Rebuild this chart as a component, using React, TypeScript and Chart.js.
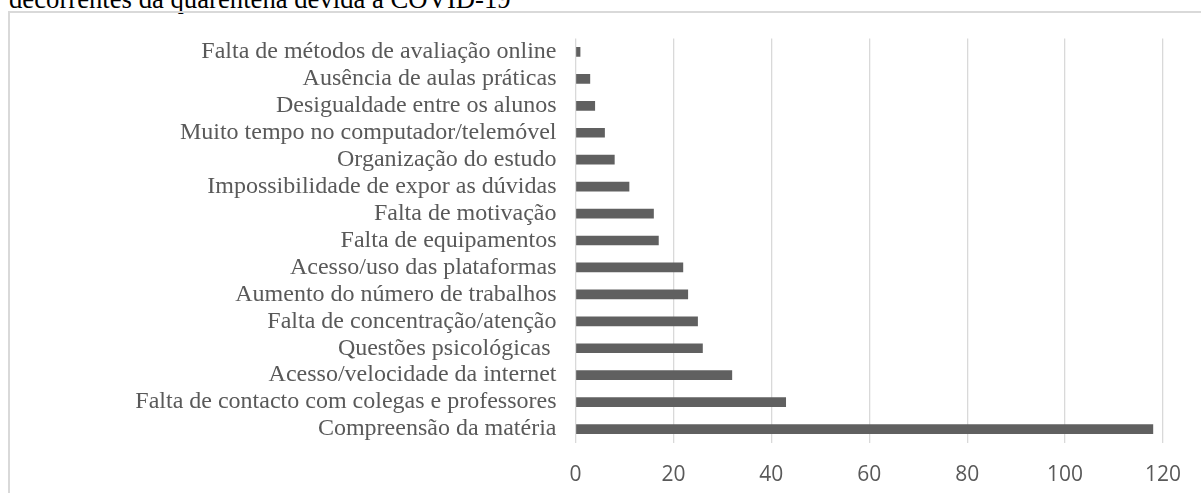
import React, { useEffect, useRef } from "react";
import { Chart, registerables } from "chart.js";

Chart.register(...registerables);

const categories: string[] = [
  "Falta de métodos de avaliação online",
  "Ausência de aulas práticas",
  "Desigualdade entre os alunos",
  "Muito tempo no computador/telemóvel",
  "Organização do estudo",
  "Impossibilidade de expor as dúvidas",
  "Falta de motivação",
  "Falta de equipamentos",
  "Acesso/uso das plataformas",
  "Aumento do número de trabalhos",
  "Falta de concentração/atenção",
  "Questões psicológicas ",
  "Acesso/velocidade da internet",
  "Falta de contacto com colegas e professores",
  "Compreensão da matéria",
];

const values: number[] = [1, 3, 4, 6, 8, 11, 16, 17, 22, 23, 25, 26, 32, 43, 118];

const xTicks: number[] = [0, 20, 40, 60, 80, 100, 120];

const caption = "decorrentes da quarentena devida à COVID-19";

export default function App() {
  const ref = useRef<HTMLCanvasElement | null>(null);

  useEffect(() => {
    if (!ref.current) return;
    const chart = new Chart(ref.current, {
      type: "bar",
      data: {
        labels: categories,
        datasets: [
          {
            data: values,
            backgroundColor: "#606060",
            borderWidth: 0,
            categoryPercentage: 0.6,
            barPercentage: 0.6,
          },
        ],
      },
      options: {
        indexAxis: "y",
        responsive: false,
        animation: false,
        devicePixelRatio: 1,
        layout: { padding: { top: 38.5, right: 36, left: 0, bottom: 0 } },
        plugins: {
          legend: { display: false },
          tooltip: { enabled: false },
          title: { display: false },
        },
        scales: {
          x: {
            min: xTicks[0],
            max: xTicks[xTicks.length - 1],
            afterBuildTicks: (scale: any) => {
              scale.ticks = xTicks.map((v) => ({ value: v }));
            },
            afterFit: (scale: any) => {
              scale.height = 50.5;
            },
            grid: {
              color: "#d9d9d9",
              lineWidth: 1.3,
              drawTicks: false,
            },
            border: { display: false },
            ticks: {
              padding: 20,
              color: "#595959",
              font: { family: "'Open Sans'", size: 21 },
              maxRotation: 0,
            },
          },
          y: {
            afterFit: (scale: any) => {
              scale.width = 575.5;
            },
            grid: { display: false, drawTicks: false },
            border: { display: false },
            ticks: {
              autoSkip: false,
              padding: 19,
              color: "#595959",
              font: { family: "'Liberation Serif'", size: 24, lineHeight: 1 },
            },
          },
        },
      },
    });
    return () => chart.destroy();
  }, []);

  return (
    <div style={{ position: "fixed", left: 0, top: 0, width: 1201, height: 493, overflow: "hidden", background: "#fff" }}>
      <div
        style={{
          position: "absolute",
          left: 9,
          top: -14.5,
          font: "26.7px 'Liberation Serif'",
          lineHeight: 1,
          whiteSpace: "nowrap",
          color: "#000",
        }}
      >
        {caption}
      </div>
      <div
        style={{
          position: "absolute",
          left: 8,
          top: 11,
          width: 1400,
          height: 700,
          border: "2px solid #d9d9d9",
          boxSizing: "border-box",
        }}
      />
      <canvas
        ref={ref}
        width={1201}
        height={493}
        style={{ position: "absolute", left: 0, top: 0, width: 1201, height: 493 }}
      />
    </div>
  );
}
